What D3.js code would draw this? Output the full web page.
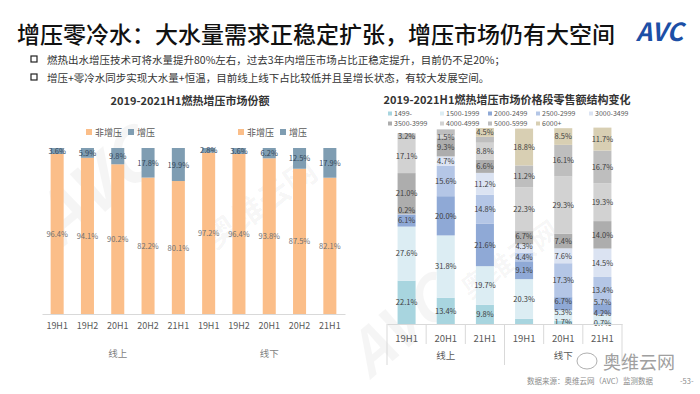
<!DOCTYPE html>
<html>
<head>
<meta charset="utf-8">
<script src="https://cdnjs.cloudflare.com/ajax/libs/d3/7.8.5/d3.min.js"></script>
<style>
  body { margin: 0; background: #fff; }
  text { font-family: "Noto Sans CJK SC", "Noto Sans", sans-serif; }
</style>
</head>
<body>
<script>

// left chart data
var leftCats = ["19H1", "19H2", "20H1", "20H2", "21H1"]
var leftGroups = ["线上", "线下"]
var nonBoost = [96.4, 94.1, 90.2, 82.2, 80.1, 97.2, 96.4, 93.8, 87.5, 82.1]
var boost = [3.6, 5.9, 9.8, 17.8, 19.9, 2.8, 3.6, 6.2, 12.5, 17.9]
var leftSeries = ["非增压", "增压"]

// right chart data (one array per price band, 6 bars each)
var rightCats = ["19H1", "20H1", "21H1"]
var rightGroups = ["线上", "线下"]
var bands = ["1499-", "1500-1999", "2000-2499", "2500-2999", "3000-3499",
             "3500-3999", "4000-4999", "5000-5999", "6000+"]
var p1499 = [22.1, 13.4, 9.8, 2.6, 1.7, 0.7]
var p1500 = [27.6, 31.8, 19.7, 20.3, 5.3, 4.2]
var p2000 = [6.1, 20.0, 21.6, 9.1, 6.7, 5.7]
var p2500 = [0.2, 15.6, 14.8, 4.4, 17.3, 13.4]
var p3000 = [0, 4.7, 11.2, 4.3, 7.6, 14.5]
var p3500 = [21.0, 9.3, 6.6, 6.7, 7.4, 14.0]
var p4000 = [17.1, 1.5, 8.8, 22.3, 29.3, 19.3]
var p5000 = [3.2, 3.0, 3.0, 11.2, 16.1, 16.7]
var p6000 = [0, 0, 4.5, 18.8, 8.5, 11.7]
// segments whose label is not printed: [bar, band]
var noLabel = [[3, 0], [1, 7], [2, 7]]

var bandValues = [p1499, p1500, p2000, p2500, p3000, p3500, p4000, p5000, p6000]
var bandColors = ["#a8d5df", "#dcedf3", "#8fa9d6", "#b4c6e6", "#dbe3f2",
                  "#adadad", "#d2d2d2", "#bebebe", "#d8cfb3"]

var svg = d3.select("body").append("svg")
    .attr("width", 700)
    .attr("height", 394)

// faint background watermarks
var wm = svg.append("g").attr("fill", "#000").attr("fill-opacity", 0.04)
wm.append("text").attr("transform", "translate(60,250) rotate(-40)")
    .attr("font-size", 70).attr("font-weight", "bold").attr("font-style", "italic").text("AVC")
wm.append("text").attr("transform", "translate(215,250) rotate(-35)")
    .attr("font-size", 32).attr("font-weight", "bold").text("奥维云网")
wm.append("text").attr("transform", "translate(370,380) rotate(-40)")
    .attr("font-size", 60).attr("font-weight", "bold").attr("font-style", "italic").text("AVC")
wm.append("text").attr("transform", "translate(470,300) rotate(-35)")
    .attr("font-size", 28).attr("font-weight", "bold").text("奥维云网")

// header
svg.append("text")
    .attr("x", 17).attr("y", 43)
    .attr("font-size", 23).attr("font-weight", 500).attr("fill", "#111")
    .text("增压零冷水：大水量需求正稳定扩张，增压市场仍有大空间")

svg.append("text")
    .attr("x", 636).attr("y", 41)
    .attr("font-size", 25).attr("font-weight", "bold").attr("font-style", "italic")
    .attr("fill", "#1c4fa6").attr("font-family", "Liberation Sans")
    .text("AVC")

var bullets = ["燃热出水增压技术可将水量提升80%左右，过去3年内增压市场占比正稳定提升，目前仍不足20%；",
               "增压+零冷水同步实现大水量+恒温，目前线上线下占比较低并且呈增长状态，有较大发展空间。"]
bullets.forEach(function(t, i) {
    svg.append("rect").attr("x", 31).attr("y", 56 + i * 18).attr("width", 6).attr("height", 6)
        .attr("fill", "none").attr("stroke", "#222").attr("stroke-width", 1.2)
    svg.append("text").attr("x", 47).attr("y", 63.5 + i * 18)
        .attr("font-size", 10.5).attr("fill", "#333").text(t)
})

// ---------- left chart ----------
svg.append("text").attr("x", 190).attr("y", 105).attr("text-anchor", "middle")
    .attr("font-size", 11).attr("font-weight", "bold").attr("fill", "#333")
    .text("2019-2021H1燃热增压市场份额")

var leftKeys = []
leftGroups.forEach(function(g) { leftCats.forEach(function(c) { leftKeys.push(g + c) }) })

var xL = d3.scaleBand().domain(leftKeys).range([42, 345]).paddingInner(0.57).paddingOuter(0.285)
var yL = d3.scaleLinear().domain([0, 100]).range([314, 148])
var leftColors = ["#fbbe89", "#7f9db2"]

var leftRows = leftKeys.map(function(k, i) { return { key: k, a: nonBoost[i], b: boost[i] } })

svg.selectAll(".barA").data(leftRows).enter().append("rect")
    .attr("class", "barA")
    .attr("x", function(d) { return xL(d.key) })
    .attr("width", xL.bandwidth())
    .attr("y", function(d) { return yL(d.a) })
    .attr("height", function(d) { return yL(0) - yL(d.a) })
    .attr("fill", leftColors[0])

svg.selectAll(".barB").data(leftRows).enter().append("rect")
    .attr("class", "barB")
    .attr("x", function(d) { return xL(d.key) })
    .attr("width", xL.bandwidth())
    .attr("y", function(d) { return yL(d.a + d.b) })
    .attr("height", function(d) { return yL(d.a) - yL(d.a + d.b) })
    .attr("fill", leftColors[1])

svg.selectAll(".labA").data(leftRows).enter().append("text")
    .attr("class", "labA")
    .attr("x", function(d) { return xL(d.key) + xL.bandwidth() / 2 })
    .attr("y", function(d) { return yL(d.a / 2) + 3 })
    .attr("text-anchor", "middle").attr("font-size", 7.5).attr("fill", "#6f6f6f")
    .text(function(d) { return d.a.toFixed(1) + "%" })

svg.selectAll(".labB").data(leftRows).enter().append("text")
    .attr("class", "labB")
    .attr("x", function(d) { return xL(d.key) + xL.bandwidth() / 2 })
    .attr("y", function(d) { return yL(d.a + d.b / 2) + 3 })
    .attr("text-anchor", "middle").attr("font-size", 7.5).attr("fill", "#34475a")
    .text(function(d) { return d.b.toFixed(1) + "%" })

// left axis
var axL = svg.append("g").attr("transform", "translate(0,314)")
    .call(d3.axisBottom(xL).tickSize(0).tickPadding(9).tickFormat(function(k) { return k.slice(2) }))
axL.select(".domain").attr("stroke", "#d9d9d9")
axL.selectAll("text").attr("font-size", 9).attr("fill", "#595959")
    .attr("font-family", "Noto Sans CJK SC")

leftGroups.forEach(function(g, gi) {
    var k0 = xL(g + leftCats[0]), k1 = xL(g + leftCats[leftCats.length - 1]) + xL.bandwidth()
    svg.append("text").attr("x", (k0 + k1) / 2).attr("y", 357).attr("text-anchor", "middle")
        .attr("font-size", 9.5).attr("fill", "#7f7f7f").text(g)
    // legend for each group
    var lx = [86, 238][gi]
    leftSeries.forEach(function(s, si) {
        svg.append("rect").attr("x", lx + si * 42).attr("y", 129).attr("width", 6).attr("height", 6)
            .attr("fill", leftColors[si])
        svg.append("text").attr("x", lx + si * 42 + 9).attr("y", 136)
            .attr("font-size", 9).attr("fill", "#595959").text(s)
    })
})

// ---------- right chart ----------
svg.append("text").attr("x", 507).attr("y", 104).attr("text-anchor", "middle")
    .attr("font-size", 11).attr("font-weight", "bold").attr("fill", "#333")
    .text("2019-2021H1燃热增压市场价格段零售额结构变化")

var rightKeys = []
rightGroups.forEach(function(g) { rightCats.forEach(function(c) { rightKeys.push(g + c) }) })

var xR = d3.scaleBand().domain(rightKeys).range([387, 622]).paddingInner(0.54).paddingOuter(0.27)
var yR = d3.scaleLinear().domain([0, 100]).range([324, 128])

var rightRows = rightKeys.map(function(k, i) {
    var r = { key: k, idx: i }
    bands.forEach(function(b, j) { r[b] = bandValues[j][i] })
    return r
})
var stack = d3.stack().keys(bands)(rightRows)

var layer = svg.selectAll(".layer").data(stack).enter().append("g")
    .attr("class", "layer")
    .attr("fill", function(d, i) { return bandColors[i] })

layer.selectAll("rect").data(function(d) { return d }).enter().append("rect")
    .attr("x", function(d) { return xR(d.data.key) })
    .attr("width", xR.bandwidth())
    .attr("y", function(d) { return yR(d[1]) })
    .attr("height", function(d) { return yR(d[0]) - yR(d[1]) })

function hidden(bar, band) {
    return noLabel.some(function(n) { return n[0] == bar && n[1] == band })
}

// labels per bar, bottom to top, nudged apart when segments are tiny
rightRows.forEach(function(row, i) {
    var prevY = 999
    stack.forEach(function(s, j) {
        var d = s[i]
        var v = d[1] - d[0]
        if (v <= 0 || hidden(i, j)) return
        var y = yR((d[0] + d[1]) / 2) + 2.8
        if (prevY - y < 10.5) y = prevY - 10.5
        prevY = y
        svg.append("text")
            .attr("x", xR(row.key) + xR.bandwidth() / 2)
            .attr("y", y)
            .attr("text-anchor", "middle").attr("font-size", 7.5).attr("fill", "#404040")
            .text(v.toFixed(1) + "%")
    })
})

// right legend
bands.forEach(function(b, i) {
    var col = i < 5 ? i : i - 5
    var row = i < 5 ? 0 : 1
    var lx = [388, 440, 488, 536, 589][col]
    var ly = 116 + row * 10
    svg.append("rect").attr("x", lx).attr("y", ly - 4.5).attr("width", 4).attr("height", 4)
        .attr("fill", bandColors[i])
    svg.append("text").attr("x", lx + 6).attr("y", ly)
        .attr("font-size", 7).attr("fill", "#595959").text(b)
})

// right axis (multi-level categories)
var axR = svg.append("g").attr("transform", "translate(0,324)")
    .call(d3.axisBottom(xR).tickSize(0).tickPadding(11).tickFormat(function(k) { return k.slice(2) }))
axR.select(".domain").attr("stroke", "#d9d9d9")
axR.selectAll("text").attr("font-size", 9.5).attr("fill", "#595959")
    .attr("font-family", "Noto Sans CJK SC")

var step = xR.step()
rightKeys.forEach(function(k, i) {
    var xl = xR(k) - step * xR.paddingInner() / 2
    var isGroupEdge = i % rightCats.length == 0
    svg.append("line").attr("x1", xl).attr("x2", xl).attr("y1", 324).attr("y2", isGroupEdge ? 365 : 344)
        .attr("stroke", "#d9d9d9")
})
svg.append("line").attr("x1", 622).attr("x2", 622).attr("y1", 324).attr("y2", 365).attr("stroke", "#d9d9d9")

rightGroups.forEach(function(g) {
    var k0 = xR(g + rightCats[0]), k1 = xR(g + rightCats[rightCats.length - 1]) + xR.bandwidth()
    svg.append("text").attr("x", (k0 + k1) / 2).attr("y", 359).attr("text-anchor", "middle")
        .attr("font-size", 9.5).attr("fill", "#595959").text(g)
})

// footer
svg.append("text").attr("x", 603).attr("y", 369)
    .attr("font-size", 18).attr("fill", "#a0a0a0").text("奥维云网")
svg.append("ellipse").attr("cx", 587).attr("cy", 361).attr("rx", 10).attr("ry", 8)
    .attr("fill", "none").attr("stroke", "#b0b0b0").attr("stroke-width", 1)
svg.append("text").attr("x", 527).attr("y", 384)
    .attr("font-size", 7.5).attr("fill", "#8c8c8c").text("数据来源：奥维云网（AVC）监测数据")
svg.append("text").attr("x", 680).attr("y", 384)
    .attr("font-size", 7.5).attr("fill", "#8c8c8c").text("-53-")

</script>
</body>
</html>
